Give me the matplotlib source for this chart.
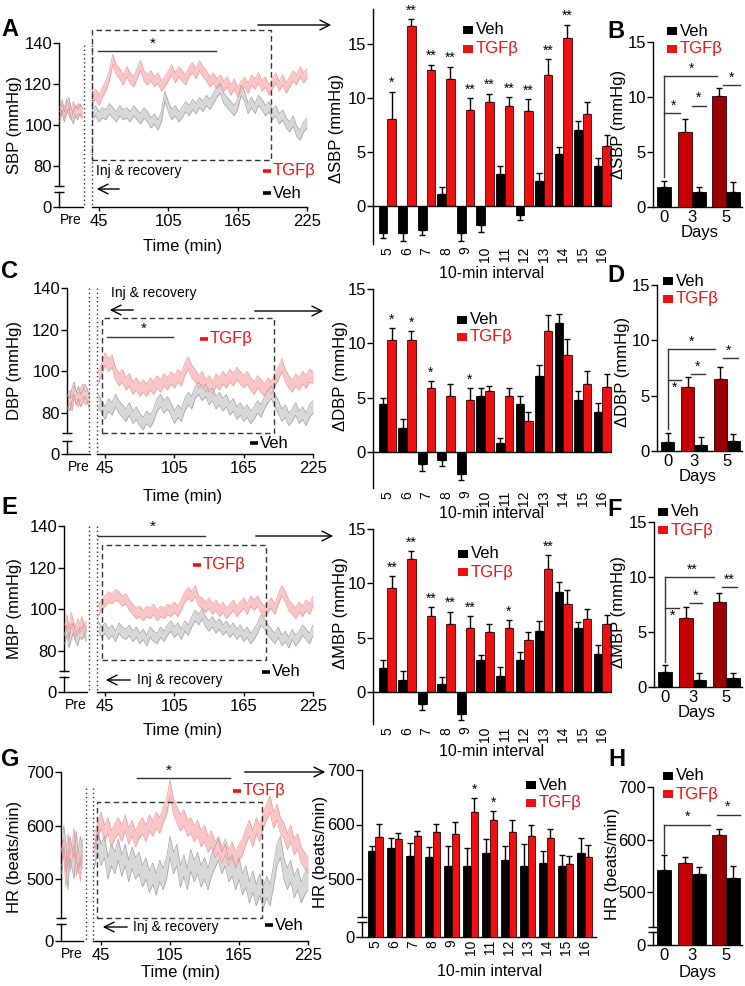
import numpy as np
import matplotlib
matplotlib.use('Agg')
import matplotlib.pyplot as plt
from matplotlib.patches import Rectangle, FancyArrowPatch
from matplotlib.lines import Line2D

plt.rcParams['font.family'] = ['Liberation Sans', 'DejaVu Sans']
plt.rcParams['axes.linewidth'] = 1.0

# ---------------- data ----------------
T_START, T_STEP = 39, 3          # main recording, sampled every 3 min
t_pre = np.arange(-30, 1, 3)     # baseline ("Pre") samples

sbp_tgf = [113, 115, 112, 116, 119, 124, 132, 127, 125, 122, 126, 123, 121, 125, 129, 124, 122, 124, 121, 123,
           119, 121, 124, 127, 123, 126, 124, 122, 126, 128, 125, 129, 126, 124, 121, 123, 120, 122, 119, 121,
           117, 120, 116, 119, 121, 118, 122, 120, 123, 119, 121, 117, 120, 123, 119, 122, 118, 121, 124, 122,
           126, 123, 125]
sbp_veh = [105, 107, 104, 106, 105, 108, 106, 104, 107, 105, 106, 104, 107, 105, 103, 106, 104, 101, 103, 100,
           104, 114, 109, 105, 107, 104, 106, 109, 107, 110, 108, 111, 109, 112, 110, 113, 116, 118, 113, 111,
           109, 107, 110, 117, 114, 108, 111, 108, 112, 110, 107, 109, 105, 107, 103, 105, 101, 99, 102, 97,
           95, 99, 101]
sbp_tgf_pre = [104, 108, 106, 110, 107, 105, 109, 106, 108, 107, 106]
sbp_veh_pre = [106, 110, 104, 108, 111, 106, 103, 107, 105, 108, 106]
sbp_sem = [2.5, 2.5]

dbp_tgf = [97, 101, 106, 103, 105, 99, 96, 98, 94, 96, 92, 94, 91, 93, 91, 94, 92, 95, 93, 96,
           94, 97, 95, 98, 96, 101, 104, 100, 98, 95, 97, 93, 95, 92, 96, 94, 97, 95, 98, 96,
           99, 97, 95, 97, 94, 92, 95, 93, 91, 94, 92, 96, 99, 103, 98, 95, 93, 96, 94, 97,
           95, 98, 97]
dbp_veh = [86, 83, 80, 84, 82, 86, 83, 81, 79, 82, 78, 80, 77, 75, 78, 76, 79, 84, 86, 83,
           85, 82, 78, 81, 79, 84, 87, 85, 90, 92, 89, 91, 87, 89, 85, 87, 84, 86, 82, 84,
           80, 82, 79, 81, 78, 80, 83, 81, 85, 88, 90, 86, 83, 79, 81, 77, 79, 82, 78, 80,
           77, 81, 83]
dbp_tgf_pre = [85, 88, 84, 90, 87, 86, 89, 91, 87, 88, 86]
dbp_veh_pre = [86, 84, 89, 92, 87, 90, 86, 88, 91, 89, 85]
dbp_sem = [3.0, 3.0]

mbp_tgf = [99, 102, 104, 106, 105, 107, 106, 104, 105, 102, 100, 98, 99, 97, 99, 98, 100, 97, 99, 98,
           100, 99, 101, 99, 102, 106, 108, 106, 109, 104, 103, 101, 103, 100, 102, 99, 101, 98, 100, 102,
           99, 101, 103, 100, 104, 102, 104, 101, 99, 101, 103, 100, 105, 109, 106, 102, 100, 98, 101, 99,
           102, 100, 104]
mbp_veh = [92, 89, 91, 88, 90, 87, 91, 89, 88, 90, 87, 89, 86, 88, 85, 89, 87, 86, 89, 87,
           90, 92, 89, 91, 88, 92, 90, 94, 97, 95, 98, 94, 92, 94, 91, 93, 90, 92, 89, 91,
           88, 90, 87, 89, 86, 88, 91, 95, 93, 90, 88, 86, 89, 85, 87, 84, 88, 85, 87, 90,
           88, 86, 90]
mbp_tgf_pre = [90, 95, 88, 96, 92, 89, 93, 91, 94, 90, 92]
mbp_veh_pre = [86, 90, 84, 88, 91, 87, 85, 89, 88, 90, 87]
mbp_sem = [2.5, 2.5]

hr_tgf = [565, 590, 610, 585, 600, 575, 590, 600, 585, 605, 580, 595, 575, 590, 600, 585, 605, 595, 610, 600,
          620, 635, 670, 635, 620, 605, 615, 595, 600, 585, 595, 575, 585, 565, 575, 555, 565, 545, 560, 540,
          555, 535, 550, 560, 580, 595, 575, 600, 585, 610, 625, 640, 610, 625, 600, 590, 570, 585, 560, 570,
          545, 535, 525]
hr_veh = [540, 570, 545, 560, 520, 545, 530, 555, 525, 545, 515, 540, 520, 530, 505, 520, 495, 510, 490, 515,
          500, 520, 560, 530, 545, 505, 525, 500, 535, 515, 530, 505, 520, 500, 525, 540, 555, 530, 545, 515,
          525, 500, 520, 490, 505, 475, 495, 470, 490, 465, 485, 470, 505, 545, 560, 520, 500, 515, 485, 500,
          475, 490, 500]
hr_tgf_pre = [540, 560, 500, 570, 530, 550, 580, 520, 545, 510, 560]
hr_veh_pre = [530, 580, 550, 500, 560, 540, 520, 570, 530, 560, 540]
hr_sem = [15, 20]

intervals = [str(i) for i in range(5, 17)]

dsbp_veh = [-2.5, -2.5, -2.2, 1.1, -2.5, -1.8, 3.0, -0.8, 2.3, 4.8, 7.0, 3.7]
dsbp_veh_e = [0.5, 0.7, 0.5, 0.7, 0.7, 0.6, 0.7, 0.5, 0.8, 0.7, 0.9, 0.7]
dsbp_tgf = [8.1, 16.7, 12.6, 11.8, 8.9, 9.6, 9.3, 8.8, 12.1, 15.6, 8.5, 5.6]
dsbp_tgf_e = [2.5, 0.6, 0.5, 1.1, 1.1, 0.8, 0.8, 1.1, 1.5, 1.2, 1.1, 1.0]
dsbp_stars = ['*', '**', '**', '**', '**', '**', '**', '**', '**', '**', '', '']

ddbp_veh = [4.4, 2.2, -1.1, -0.7, -2.0, 5.2, 0.8, 4.4, 7.0, 11.9, 4.8, 3.7]
ddbp_veh_e = [0.6, 0.8, 0.6, 0.6, 0.6, 0.7, 0.5, 0.8, 1.0, 0.8, 0.8, 0.8]
ddbp_tgf = [10.3, 10.3, 5.9, 5.2, 4.8, 5.6, 5.2, 2.9, 11.1, 8.9, 6.3, 6.0]
ddbp_tgf_e = [1.1, 0.8, 0.6, 1.1, 1.1, 0.5, 0.7, 0.8, 1.5, 1.5, 1.2, 1.2]
ddbp_stars = ['*', '*', '*', '', '*', '', '', '', '', '', '', '']

dmbp_veh = [2.2, 1.1, -1.1, 0.7, -2.0, 2.9, 1.5, 2.9, 5.6, 9.2, 5.9, 3.5]
dmbp_veh_e = [0.7, 0.8, 0.6, 0.7, 0.6, 0.5, 0.8, 0.8, 0.9, 0.9, 0.5, 0.8]
dmbp_tgf = [9.6, 12.2, 7.0, 6.3, 5.9, 5.5, 5.9, 4.8, 11.3, 8.1, 6.7, 6.3]
dmbp_tgf_e = [1.1, 0.8, 0.8, 1.1, 1.1, 0.8, 0.7, 0.7, 1.3, 1.3, 0.9, 0.8]
dmbp_stars = ['**', '**', '**', '**', '**', '', '*', '', '**', '', '', '']

dhr_veh = [552, 557, 543, 540, 524, 523, 548, 535, 523, 529, 523, 547]
dhr_veh_e = [8, 18, 23, 18, 37, 34, 25, 25, 42, 22, 21, 28]
dhr_tgf = [577, 573, 579, 587, 582, 623, 609, 587, 578, 576, 528, 541]
dhr_tgf_e = [24, 11, 9, 14, 23, 26, 16, 22, 22, 16, 14, 21]
dhr_stars = ['', '', '', '', '', '*', '*', '', '', '', '', '']

days = ['0', '3', '5']
b_veh = [1.8, 1.4, 1.4]
b_veh_e = [0.55, 0.45, 0.9]
b_tgf = [6.8, 10.1]
b_tgf_e = [1.2, 0.75]

d_veh = [0.84, 0.57, 0.93]
d_veh_e = [0.8, 0.73, 0.57]
d_tgf = [5.8, 6.5]
d_tgf_e = [0.85, 1.05]

f_veh = [1.36, 0.6, 0.85]
f_veh_e = [0.6, 0.67, 0.45]
f_tgf = [6.3, 7.7]
f_tgf_e = [1.0, 0.85]

h_veh = [541, 534, 526]
h_veh_e = [29, 13, 24]
h_tgf = [556, 609]
h_tgf_e = [10, 11]

# ---------------- style ----------------
RED = '#ee1111'
RED3 = '#c40000'
RED5 = '#9c0000'
PINK_F, PINK_E = '#f8c6c6', '#ee9a9a'
GRAY_F, GRAY_E = '#d8d8d8', '#a0a0a0'
FS = 12       # tick labels / axis labels
FS_INT = 10   # rotated interval ticks

W, H = 745, 986
fig = plt.figure(figsize=(W / 100, H / 100), dpi=100)


def add_ax(x0, y0, x1, y1):
    ax = fig.add_axes([x0 / W, 1 - y1 / H, (x1 - x0) / W, (y1 - y0) / H])
    ax.patch.set_alpha(0)
    return ax


def P(x, y):
    return (x / W, 1 - y / H)


def broken(ax, brk, lin0):
    k = (brk - lin0) / brk

    def fwd(y):
        y = np.asarray(y, float)
        return np.where(y >= brk, y, lin0 + y * k)

    def inv(z):
        z = np.asarray(z, float)
        return np.where(z >= brk, z, (z - lin0) / k)
    ax.set_yscale('function', functions=(fwd, inv))


def break_params(T, yT, s, y0, yb_up, yb_lo):
    lin0 = T - (y0 - yT) / s
    brk = T - (yb_up - yT) / s
    lin_lo = T - (yb_lo - yT) / s
    lowtop = (lin_lo - lin0) * brk / (brk - lin0)
    return lin0, brk, lowtop


def seg_spine(ax, brk, lowtop, T):
    ax.spines['left'].set_visible(False)
    tr = ax.get_yaxis_transform()
    ax.plot([0, 0], [0, lowtop], color='k', lw=1, transform=tr, clip_on=False)
    ax.plot([0, 0], [brk, T], color='k', lw=1, transform=tr, clip_on=False)
    ax.plot([0, 0], [lowtop, brk], ls='none', marker='_', ms=7, mew=1,
            color='k', transform=tr, clip_on=False)


def fig_line(x0, y0, x1, y1, **kw):
    fig.add_artist(Line2D([x0 / W, x1 / W], [1 - y0 / H, 1 - y1 / H],
                          transform=fig.transFigure, **kw))


def fig_arrow(x0, y, x1):
    fig.add_artist(FancyArrowPatch(P(x0, y), P(x1, y), transform=fig.transFigure,
                                   arrowstyle='->,head_length=0.7,head_width=0.35',
                                   mutation_scale=10, lw=1.0, color='k'))


def band(ax, t, m, e, fc, ec):
    m = np.asarray(m, float)
    ax.fill_between(t, m - e, m + e, color=fc, lw=0)
    ax.plot(t, m - e, color=ec, lw=0.5)
    ax.plot(t, m + e, color=ec, lw=0.5)


def tgrid(vals):
    return T_START + T_STEP * np.arange(len(vals))


def ts_panel(pre_x0, pre_x1, main_x0, main_x1, t0, T, yT, s, y0, yb_up, yb_lo,
             yticks, tgf, veh, tgf_pre, veh_pre, sem, ylab, dots, dot_top):
    lin0, brk, lowtop = break_params(T, yT, s, y0, yb_up, yb_lo)
    ap = add_ax(pre_x0, yT, pre_x1, y0)
    broken(ap, brk, lin0)
    ap.set_ylim(0, T)
    ap.set_xlim(-31, 1)
    for sp in ['top', 'right']:
        ap.spines[sp].set_visible(False)
    seg_spine(ap, brk, lowtop, T)
    band(ap, t_pre, veh_pre, sem[1], GRAY_F, GRAY_E)
    band(ap, t_pre, tgf_pre, sem[0], PINK_F, PINK_E)
    ap.set_yticks(yticks)
    ap.set_yticklabels([str(v) for v in yticks])
    ap.tick_params(axis='y', length=4, width=1, labelsize=FS, pad=1)
    ap.set_xticks([-15])
    ap.set_xticklabels(['Pre'])
    ap.tick_params(axis='x', length=0, labelsize=10, pad=4)

    am = add_ax(main_x0, yT, main_x1, y0)
    broken(am, brk, lin0)
    am.set_ylim(0, T)
    am.set_xlim(t0, 225)
    for sp in ['top', 'right', 'left']:
        am.spines[sp].set_visible(False)
    am.set_yticks([])
    band(am, tgrid(veh), veh, sem[1], GRAY_F, GRAY_E)
    band(am, tgrid(tgf), tgf, sem[0], PINK_F, PINK_E)
    am.set_xticks([45, 105, 165, 225])
    am.tick_params(axis='x', length=3, width=1, labelsize=FS, pad=2)
    fig.text(*P(15, (yT + y0) / 2), ylab, rotation=90, ha='center', va='center', fontsize=FS)
    for xd in dots:
        fig_line(xd, dot_top, xd, y0, color='#333', lw=1.0, ls=(0, (1, 2)))
    return ap, am


def bar_panel(x0, x1, ytop, ybot, xlim, ylim, veh, veh_e, tgf, tgf_e, stars, w,
              yticks, bp=None, star_fs=10):
    ax = add_ax(x0, ytop, x1, ybot)
    x = np.arange(len(veh))
    if bp is not None:
        lin0, brk, lowtop, T = bp
        broken(ax, brk, lin0)
    ax.set_xlim(*xlim)
    ax.set_ylim(*ylim)
    xv = x - w / 2
    xt = x + w / 2
    veh = np.asarray(veh, float)
    tgf = np.asarray(tgf, float)
    veh_e = np.asarray(veh_e, float)
    tgf_e = np.asarray(tgf_e, float)
    for xx, v, e in ((xv, veh, veh_e), (xt, tgf, tgf_e)):
        lo = np.where(v < 0, e, 0)
        hi = np.where(v >= 0, e, 0)
        ax.errorbar(xx, v, yerr=[lo, hi], fmt='none', ecolor='k', elinewidth=1,
                    capsize=2.5, capthick=1, zorder=2)
    ax.bar(xv, veh, w, color='black', edgecolor='black', lw=0.6, zorder=3)
    ax.bar(xt, tgf, w, color=RED, edgecolor='#3a0000', lw=0.6, zorder=3)
    for i, st in enumerate(stars):
        if st:
            ax.annotate(st, (xt[i], tgf[i] + tgf_e[i]), xytext=(0, 1),
                        textcoords='offset points', ha='center', va='bottom',
                        fontsize=star_fs)
    for sp in ['top', 'right']:
        ax.spines[sp].set_visible(False)
    ax.set_xticks(x)
    ax.set_xticklabels(intervals, rotation=90)
    ax.tick_params(axis='x', length=0, labelsize=FS_INT, pad=2)
    ax.set_yticks(yticks)
    ax.tick_params(axis='y', length=4, width=1, labelsize=FS, pad=1)
    if bp is not None:
        seg_spine(ax, brk, lowtop, T)
    else:
        ax.spines['bottom'].set_visible(False)
        ax.axhline(0, color='k', lw=1, zorder=4)
    return ax


day_pos = np.array([0.18, 1.0, 2.0])
DW = 0.4


def day_panel(x0, x1, ytop, ybot, ylim, veh, veh_e, tgf, tgf_e, yticks, bp=None):
    ax = add_ax(x0, ytop, x1, ybot)
    if bp is not None:
        lin0, brk, lowtop, T = bp
        broken(ax, brk, lin0)
    ax.set_xlim(-0.15, 2.47)
    ax.set_ylim(*ylim)
    xv = np.array([day_pos[0], day_pos[1] + DW / 2, day_pos[2] + DW / 2])
    xt = np.array([day_pos[1] - DW / 2, day_pos[2] - DW / 2])
    ax.errorbar(xv, veh, yerr=[[0, 0, 0], veh_e], fmt='none', ecolor='k', elinewidth=1,
                capsize=2.5, capthick=1, zorder=2)
    ax.errorbar(xt, tgf, yerr=[[0, 0], tgf_e], fmt='none', ecolor='k', elinewidth=1,
                capsize=2.5, capthick=1, zorder=2)
    ax.bar(xv, veh, DW, color='black', edgecolor='black', lw=0.6, zorder=3)
    ax.bar(xt, tgf, DW, color=[RED3, RED5], edgecolor='#2a0000', lw=0.6, zorder=3)
    for sp in ['top', 'right']:
        ax.spines[sp].set_visible(False)
    ax.set_xticks(day_pos)
    ax.set_xticklabels(days)
    ax.tick_params(axis='x', length=0, labelsize=FS, pad=2)
    ax.set_yticks(yticks)
    ax.tick_params(axis='y', length=4, width=1, labelsize=FS, pad=1)
    if bp is not None:
        seg_spine(ax, brk, lowtop, T)
    return ax


def bracket(ax, x0, x1, y, star, sx, sy, va='bottom', fs=10):
    ax.plot([x0, x1], [y, y], color='#333', lw=1, clip_on=False)
    ax.text(sx, sy, star, ha='center', va=va, fontsize=fs)


def legend_sq(x, yv, yt, size=(10, 8)):
    for yy, col, lab in ((yv, 'black', 'Veh'), (yt, RED, 'TGFβ')):
        fig.add_artist(Rectangle(P(x, yy + size[1] / 2), size[0] / W, size[1] / H,
                                 transform=fig.transFigure, color=col, lw=0))
        fig.text(*P(x + size[0] + 3, yy), lab, color=col, fontsize=12, va='center', ha='left')


def dash_label(x, y, text, col):
    fig_line(x, y, x + 8, y, color=col, lw=2.6, solid_capstyle='butt')
    fig.text(*P(x + 10, y), text, color=col, fontsize=12, va='center', ha='left')


def dashed_rect(x0, y0, x1, y1):
    fig.add_artist(Rectangle(P(x0, y1), (x1 - x0) / W, (y1 - y0) / H, transform=fig.transFigure,
                             fill=False, ls=(0, (4, 2.5)), lw=1.0, ec='#333'))


def panel_letter(x, y, s):
    fig.text(*P(x, y), s, fontsize=17, fontweight='bold', ha='center', va='center')


def xlab(x, y, s, fs=FS):
    fig.text(*P(x, y), s, ha='center', va='center', fontsize=fs)


def ylab(x, y, s):
    fig.text(*P(x, y), s, rotation=90, ha='center', va='center', fontsize=FS)


# ================= Row A / B =================
ts_panel(59, 83, 92, 307, 39, 140, 43, 2.05, 207, 186, 192, [0, 80, 100, 120, 140],
         sbp_tgf, sbp_veh, sbp_tgf_pre, sbp_veh_pre, sbp_sem, 'SBP (mmHg)', [84, 92], 45)
xlab(183, 247, 'Time (min)')
dashed_rect(92, 30, 271, 160)
fig_arrow(255, 25, 334)
fig.text(*P(96, 171), 'Inj & recovery', fontsize=10, va='center')
fig_arrow(122, 189, 94)
fig_line(98, 51, 216, 51, color='#333', lw=1)
fig.text(*P(153, 44), '*', ha='center', va='center', fontsize=11)
dash_label(263, 171, 'TGFβ', RED)
dash_label(263, 193, 'Veh', 'black')
panel_letter(10, 29, 'A')

bar_panel(373, 612, 9, 244, (-0.74, 11.5), (-3.52, 18.24), dsbp_veh, dsbp_veh_e,
          dsbp_tgf, dsbp_tgf_e, dsbp_stars, 0.44, [0, 5, 10, 15])
ylab(337, 128, 'ΔSBP (mmHg)')
xlab(492, 274, '10-min interval', 11.5)
legend_sq(463, 30, 49)

axb = day_panel(653, 742, 42, 207, (0, 15), b_veh, b_veh_e, b_tgf, b_tgf_e, [0, 5, 10, 15])
axb.plot([0.18, 0.18], [2.7, 11.9], color='#333', lw=1, clip_on=False)
bracket(axb, 0.18, 1.74, 11.9, '*', 0.97, 11.95)
bracket(axb, 0.18, 0.65, 8.55, '*', 0.45, 8.6)
bracket(axb, 1.0, 1.41, 9.2, '*', 1.19, 9.25)
bracket(axb, 1.91, 2.41, 11.1, '*', 2.15, 11.15)
ylab(619, 124, 'ΔSBP (mmHg)')
xlab(700, 233, 'Days')
legend_sq(667, 31, 49)
panel_letter(616, 32, 'B')

# ================= Row C / D =================
ts_panel(67, 90, 97, 313, 38, 140, 288, 2.085, 454, 433, 441, [0, 80, 100, 120, 140],
         dbp_tgf, dbp_veh, dbp_tgf_pre, dbp_veh_pre, dbp_sem, 'DBP (mmHg)', [89, 97], 288)
xlab(183, 496, 'Time (min)')
dashed_rect(102, 318, 274, 433)
fig_arrow(252, 311, 326)
fig.text(*P(111, 293), 'Inj & recovery', fontsize=10, va='center')
fig_arrow(136, 310, 107)
fig_line(107, 337, 173, 337, color='#333', lw=1)
fig.text(*P(144, 329), '*', ha='center', va='center', fontsize=11)
dash_label(200, 339, 'TGFβ', RED)
dash_label(250, 443, 'Veh', 'black')
panel_letter(10, 272, 'C')

bar_panel(373, 612, 289, 488, (-0.74, 11.5), (-3.3, 15), ddbp_veh, ddbp_veh_e,
          ddbp_tgf, ddbp_tgf_e, ddbp_stars, 0.44, [0, 5, 10, 15])
ylab(340, 376, 'ΔDBP (mmHg)')
xlab(492, 514, '10-min interval', 11.5)
legend_sq(457, 320, 337)

axd = day_panel(657, 742, 285, 451, (0, 15), d_veh, d_veh_e, d_tgf, d_tgf_e, [0, 5, 10, 15])
axd.plot([0.18, 0.18], [2.0, 9.2], color='#333', lw=1, clip_on=False)
bracket(axd, 0.18, 1.65, 9.2, '*', 0.91, 9.25)
bracket(axd, 0.18, 0.6, 6.4, '*', 0.4, 6.3, va='top')
bracket(axd, 0.91, 1.32, 6.95, '*', 1.1, 7.0)
bracket(axd, 1.88, 2.35, 8.4, '*', 2.05, 8.45)
ylab(622, 372, 'ΔDBP (mmHg)')
xlab(698, 477, 'Days')
legend_sq(663, 281, 299)
panel_letter(616, 275, 'D')

# ================= Row E / F =================
ts_panel(64, 87, 97, 313, 38, 140, 526, 2.083, 692, 671, 677, [0, 80, 100, 120, 140],
         mbp_tgf, mbp_veh, mbp_tgf_pre, mbp_veh_pre, mbp_sem, 'MBP (mmHg)', [89, 97], 526)
xlab(183, 730, 'Time (min)')
dashed_rect(102, 545, 266, 660)
fig_arrow(253, 536, 336)
fig.text(*P(137, 680), 'Inj & recovery', fontsize=10, va='center')
fig_arrow(133, 680, 103)
fig_line(98, 536, 205, 536, color='#333', lw=1)
fig.text(*P(153, 527), '*', ha='center', va='center', fontsize=11)
dash_label(193, 565, 'TGFβ', RED)
dash_label(262, 672, 'Veh', 'black')
panel_letter(9, 508, 'E')

bar_panel(373, 612, 529, 724, (-0.74, 11.5), (-2.95, 15), dmbp_veh, dmbp_veh_e,
          dmbp_tgf, dmbp_tgf_e, dmbp_stars, 0.44, [0, 5, 10, 15])
ylab(340, 613, 'ΔMBP (mmHg)')
xlab(492, 752, '10-min interval', 11.5)
legend_sq(458, 554, 572)

axf = day_panel(654, 742, 522, 687, (0, 15), f_veh, f_veh_e, f_tgf, f_tgf_e, [0, 5, 10, 15])
axf.plot([0.18, 0.18], [2.3, 10.0], color='#333', lw=1, clip_on=False)
bracket(axf, 0.18, 1.65, 10.0, '**', 1.0, 10.05)
bracket(axf, 0.18, 0.59, 7.2, '*', 0.4, 7.1, va='top')
bracket(axf, 0.91, 1.29, 7.6, '*', 1.1, 7.65)
bracket(axf, 1.88, 2.32, 9.1, '**', 2.1, 9.15)
ylab(619, 612, 'ΔMBP (mmHg)')
xlab(697, 712, 'Days')
legend_sq(658, 512, 530)
panel_letter(615, 509, 'F')

# ================= Row G / H =================
ts_panel(61, 83, 93, 308, 38, 700, 772, 0.535, 941, 918, 924, [0, 500, 600, 700],
         hr_tgf, hr_veh, hr_tgf_pre, hr_veh_pre, hr_sem, 'HR (beats/min)', [86, 93], 788)
xlab(181, 973, 'Time (min)')
dashed_rect(97, 802, 262, 918)
fig_arrow(242, 772, 328)
fig.text(*P(133, 927), 'Inj & recovery', fontsize=10, va='center')
fig_arrow(130, 927, 100)
fig_line(137, 778, 230, 778, color='#333', lw=1)
fig.text(*P(169, 771), '*', ha='center', va='center', fontsize=11)
dash_label(233, 791, 'TGFβ', RED)
dash_label(265, 925, 'Veh', 'black')
panel_letter(10, 760, 'G')

lin0, brk, lowtop = break_params(700, 770, 0.545, 937, 917, 922)
bar_panel(362, 596, 770, 937, (-0.71, 11.6), (0, 700), dhr_veh, dhr_veh_e,
          dhr_tgf, dhr_tgf_e, dhr_stars, 0.395, [0, 500, 600, 700], bp=(lin0, brk, lowtop, 700))
ylab(321, 852, 'HR (beats/min)')
xlab(490, 972, '10-min interval', 11.5)
legend_sq(526, 785, 803)

lin0, brk, lowtop = break_params(700, 787, 0.525, 945, 927, 932)
axh = day_panel(653, 742, 787, 945, (0, 700), h_veh, h_veh_e, h_tgf, h_tgf_e,
                [0, 500, 600, 700], bp=(lin0, brk, lowtop, 700))
axh.plot([0.18, 0.18], [575, 627], color='#333', lw=1, clip_on=False)
bracket(axh, 0.18, 1.53, 627, '*', 0.88, 629)
bracket(axh, 1.74, 2.41, 647, '*', 2.05, 649)
ylab(612, 864, 'HR (beats/min)')
xlab(698, 972, 'Days')
legend_sq(663, 776, 794)
panel_letter(617, 760, 'H')

fig.savefig('out.png', dpi=100)
